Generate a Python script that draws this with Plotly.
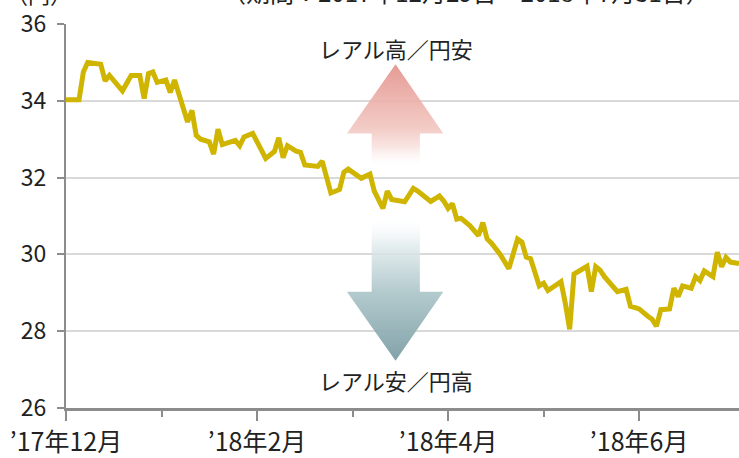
import plotly.graph_objects as go

# ---- data ----
day_index = [0, 3, 4, 5, 8, 9, 10, 13, 15, 17, 18, 19, 20, 21, 23, 24, 25, 28, 29, 30,
             31, 33, 34, 35, 36, 39, 40, 41, 43, 46, 48, 49, 50, 51, 53, 54, 55, 58, 59, 61,
             63, 64, 65, 68, 70, 71, 73, 74, 75, 78, 80, 81, 84, 86, 87, 88, 89, 90, 91, 93,
             95, 96, 97, 98, 100, 102, 104, 105, 106, 107, 109, 110, 111, 114, 115, 116, 117, 119, 120, 121,
             122, 123, 124, 127, 129, 130, 132, 134, 135, 136, 137, 139, 140, 141, 142, 144, 145, 146, 147, 149,
             150, 151, 152, 153, 155]
real_yen = [34.03, 34.03, 34.75, 35.00, 34.95, 34.52, 34.66, 34.26, 34.66, 34.66, 34.06, 34.71, 34.75, 34.48, 34.54, 34.22, 34.54, 33.45, 33.75, 33.10,
            33.00, 32.93, 32.61, 33.26, 32.86, 32.97, 32.83, 33.06, 33.15, 32.50, 32.68, 33.04, 32.52, 32.83, 32.69, 32.66, 32.33, 32.29, 32.43, 31.60,
            31.69, 32.14, 32.22, 31.98, 32.09, 31.65, 31.20, 31.65, 31.43, 31.37, 31.72, 31.65, 31.38, 31.52, 31.39, 31.20, 31.32, 30.92, 30.94, 30.75,
            30.49, 30.83, 30.40, 30.29, 30.00, 29.63, 30.40, 30.32, 29.93, 29.89, 29.18, 29.25, 29.06, 29.29, 28.73, 28.05, 29.49, 29.63, 29.69, 29.03,
            29.68, 29.59, 29.42, 29.03, 29.09, 28.65, 28.58, 28.39, 28.31, 28.13, 28.56, 28.58, 29.12, 28.90, 29.18, 29.12, 29.42, 29.32, 29.57, 29.42,
            30.06, 29.68, 29.92, 29.80, 29.76]
major_ticks = [0, 44, 88, 132]
major_labels = ["’17年12月", "’18年2月", "’18年4月", "’18年6月"]
minor_ticks = [22, 66, 110]
y_ticks = [26, 28, 30, 32, 34, 36]
unit_label = "（円）"
period_label = "（期間：2017年12月29日～2018年7月31日）"
up_label = "レアル高／円安"
down_label = "レアル安／円高"

LINE = "#cfb500"
AX = "#8c8c8c"
GRID = "#d9d9d9"
FONT = "Liberation Sans Narrow, Noto Sans CJK JP, sans-serif"

fig = go.Figure()

# decorative gradient arrows (drawn beneath the line)
ax_l, ax_r, sh_l, sh_r, cx = 64.7, 86.9, 70.4, 81.5, 75.9
up_x = [sh_l, sh_r, sh_r, ax_r, cx, ax_l, sh_l, sh_l]
up_y = [32.25, 32.25, 33.15, 33.15, 34.95, 33.15, 33.15, 32.25]
fig.add_trace(go.Scatter(
    x=up_x, y=up_y, mode="lines", line=dict(width=0), fill="toself",
    fillgradient=dict(type="vertical", colorscale=[
        [0.0, "rgba(255,255,255,0)"], [0.2, "rgba(248,225,222,0.85)"],
        [0.38, "rgba(242,198,192,0.9)"], [1.0, "rgba(227,150,142,0.95)"]]),
    hoverinfo="skip", showlegend=False))
dn_x = [sh_l, sh_r, sh_r, ax_r, cx, ax_l, sh_l, sh_l]
dn_y = [31.0, 31.0, 29.03, 29.03, 27.23, 29.03, 29.03, 31.0]
fig.add_trace(go.Scatter(
    x=dn_x, y=dn_y, mode="lines", line=dict(width=0), fill="toself",
    fillgradient=dict(type="vertical", colorscale=[
        [0.0, "rgba(122,157,164,0.95)"], [0.48, "rgba(172,197,201,0.9)"],
        [0.8, "rgba(225,235,237,0.85)"], [1.0, "rgba(255,255,255,0)"]]),
    hoverinfo="skip", showlegend=False))

fig.add_trace(go.Scatter(
    x=day_index, y=real_yen, mode="lines",
    line=dict(color=LINE, width=5, shape="linear"),
    showlegend=False, hoverinfo="skip"))

fig.update_layout(
    width=739, height=458,
    margin=dict(l=66, r=0, t=24, b=45),
    paper_bgcolor="white", plot_bgcolor="white",
    font=dict(family=FONT, size=22, color="#222222"),
    showlegend=False,
    xaxis=dict(
        range=[0, 155], tickmode="array", tickvals=major_ticks, ticktext=major_labels,
        ticks="outside", ticklen=10, tickwidth=2, tickcolor=AX,
        showline=True, linecolor=AX, linewidth=3, showgrid=False, zeroline=False,
        tickfont=dict(size=25, family=FONT, color="#222222"),
        ticklabelstandoff=0,
        minor=dict(tickvals=minor_ticks, ticks="outside", ticklen=6, tickwidth=2, tickcolor=AX),
    ),
    yaxis=dict(
        range=[26, 36], tickmode="array", tickvals=y_ticks,
        ticks="outside", ticklen=7, tickwidth=2, tickcolor=AX,
        showline=True, linecolor=AX, linewidth=2,
        showgrid=True, gridcolor=GRID, gridwidth=2, zeroline=False,
        tickfont=dict(size=23, family=FONT, color="#222222"),
        ticklabelstandoff=6,
    ),
    annotations=[
        dict(text=up_label, x=cx, y=35.38, xref="x", yref="y", showarrow=False,
             font=dict(size=22, family=FONT, color="#222222")),
        dict(text=down_label, x=cx, y=26.72, xref="x", yref="y", showarrow=False,
             font=dict(size=22, family=FONT, color="#222222")),
        dict(text=unit_label, x=0, y=1, xref="paper", yref="paper", xanchor="left", yanchor="bottom",
             xshift=-62, yshift=13, showarrow=False, font=dict(size=22, family=FONT, color="#222222")),
        dict(text=period_label, x=0.594, y=1, xref="paper", yref="paper", xanchor="center", yanchor="bottom",
             yshift=13, showarrow=False, font=dict(size=24, family=FONT, color="#222222")),
    ],
)

fig.write_html("out.html", config={"displayModeBar": False},
               post_script="document.body.style.margin='0';document.body.style.padding='0';")
